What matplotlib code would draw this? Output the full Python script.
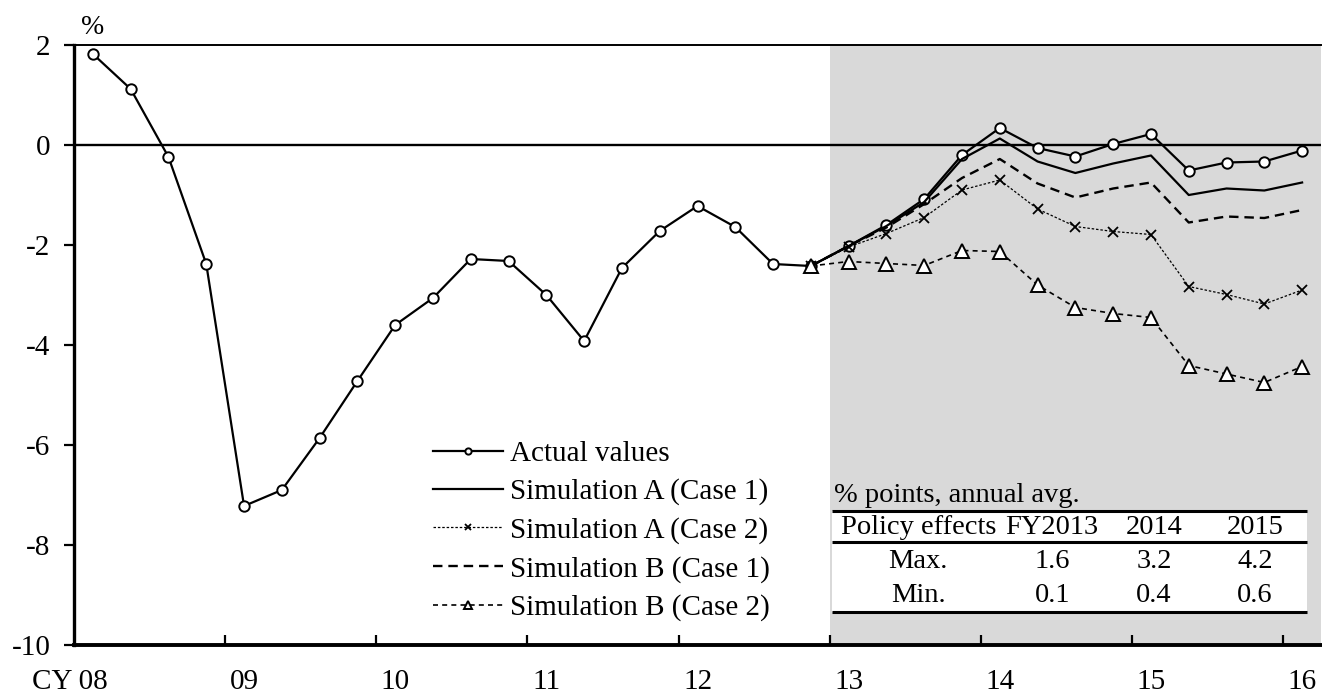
import matplotlib
matplotlib.use('Agg')
import matplotlib.pyplot as plt
from matplotlib.patches import Rectangle

plt.rcParams['font.family'] = ['Liberation Serif', 'DejaVu Serif']
plt.rcParams['axes.unicode_minus'] = False

# quarterly series, CY2008 Q1 .. CY2016 Q1
years = ['CY 08', '09', '10', '11', '12', '13', '14', '15', '16']
actual = [1.82, 1.12, -0.24, -2.38, -7.22, -6.90, -5.86, -4.72, -3.60, -3.06,
          -2.28, -2.32, -3.00, -3.92, -2.46, -1.72, -1.22, -1.64, -2.38, -2.42,
          -2.02, -1.60, -1.08, -0.20, 0.34, -0.06, -0.23, 0.02, 0.22, -0.51,
          -0.35, -0.33, -0.11]

# simulations start from CY2012 Q4
sim_start = 19
sim_a1 = [-2.42, -2.02, -1.62, -1.14, -0.28, 0.13, -0.33, -0.56, -0.37, -0.21,
          -1.00, -0.87, -0.91, -0.75]
sim_a2 = [-2.42, -2.04, -1.77, -1.45, -0.90, -0.70, -1.28, -1.63, -1.73, -1.79,
          -2.83, -2.99, -3.18, -2.90]
sim_b1 = [-2.42, -2.02, -1.65, -1.18, -0.66, -0.28, -0.77, -1.05, -0.87, -0.75,
          -1.55, -1.43, -1.46, -1.30]
sim_b2 = [-2.42, -2.33, -2.37, -2.41, -2.11, -2.13, -2.80, -3.25, -3.37, -3.45,
          -4.41, -4.58, -4.75, -4.43]

table_header = ['Policy effects', 'FY2013', '2014', '2015']
table_max = ['Max.', '1.6', '3.2', '4.2']
table_min = ['Min.', '0.1', '0.4', '0.6']

x_act = [i + 0.5 for i in range(len(actual))]
x_sim = [sim_start + i + 0.5 for i in range(len(sim_a1))]

fig = plt.figure(figsize=(13.22, 6.93), dpi=100)
ax = fig.add_axes([74 / 1322, 48 / 693, 1247 / 1322, 600 / 693])

fs = 21
tfs = 20.5

# projection period shading
ax.axvspan(20, 33, color='#d9d9d9', lw=0, zorder=0)
ax.axhline(0, color='black', lw=1.7, zorder=1)

ax.plot(x_act, actual, color='black', lw=1.6, marker='o', ms=7.5,
        mfc='white', mec='black', mew=1.4, label='Actual values', zorder=3)
ax.plot(x_sim, sim_a1, color='black', lw=1.6, label='Simulation A (Case 1)', zorder=4)
ax.plot(x_sim, sim_a2, color='black', lw=0.9, ls=(0, (2, 1.5)), marker='x',
        ms=7, mew=1.3, label='Simulation A (Case 2)', zorder=4)
ax.plot(x_sim, sim_b1, color='black', lw=1.7, ls=(0, (4, 2.5)),
        label='Simulation B (Case 1)', zorder=4)
ax.plot(x_sim, sim_b2, color='black', lw=1.2, ls=(0, (3, 2.5)), marker='^',
        ms=9.5, mfc='white', mec='black', mew=1.4, label='Simulation B (Case 2)', zorder=5)

ax.set_xlim(0, 33)
ax.set_ylim(-10, 2)

# year boundaries as inward ticks, labels under Q1 of each year
ax.set_xticks(range(4, 33, 4))
ax.set_xticklabels([])
ax.tick_params(axis='x', direction='in', length=7, width=1.6)
for i, lab in enumerate(years):
    xi = i * 4 + 0.5
    ha = 'center'
    if i == 0:
        xi = 0.88
        ha = 'right'
    ax.text(xi, -10.74, lab, ha=ha, va='center', fontsize=fs)

ax.set_yticks(range(-10, 3, 2))
ax.set_yticklabels([str(v) for v in range(-10, 3, 2)], fontsize=fs)
ax.tick_params(axis='y', direction='out', length=7, width=1.6, pad=10)

ax.spines['left'].set_linewidth(2.4)
ax.spines['bottom'].set_linewidth(2.8)
ax.spines['top'].set_linewidth(1.4)
ax.spines['right'].set_visible(False)

ax.text(0.5, 2.36, '%', ha='center', va='center', fontsize=fs - 1)

leg = ax.legend(loc='upper left', bbox_to_anchor=(0.288, 0.341), frameon=False,
                fontsize=fs, handlelength=2.4, handletextpad=0.25,
                labelspacing=0.4, borderpad=0, borderaxespad=0, markerscale=0.6)

# policy effects table
q = 37.82
def tx(px):
    return (px - 74) / q

def ty(py):
    return (146 - py) / 50

ax.add_patch(Rectangle((tx(833), ty(613)), tx(1308) - tx(833), ty(512) - ty(613),
                       facecolor='white', edgecolor='none', zorder=6))
for py in [512, 543, 613]:
    ax.plot([tx(833), tx(1308)], [ty(py), ty(py)], color='black', lw=2.2,
            solid_capstyle='butt', zorder=7)
ax.text(tx(835), ty(497), '% points, annual avg.', ha='left', va='center',
        fontsize=tfs, zorder=7)
col_x = [919, 1053, 1155, 1256]
for row, py in [(table_header, 528), (table_max, 563), (table_min, 597)]:
    for cx, s in zip(col_x, row):
        ax.text(tx(cx), ty(py), s, ha='center', va='center', fontsize=tfs, zorder=7)

fig.savefig('out.png', dpi=100)
